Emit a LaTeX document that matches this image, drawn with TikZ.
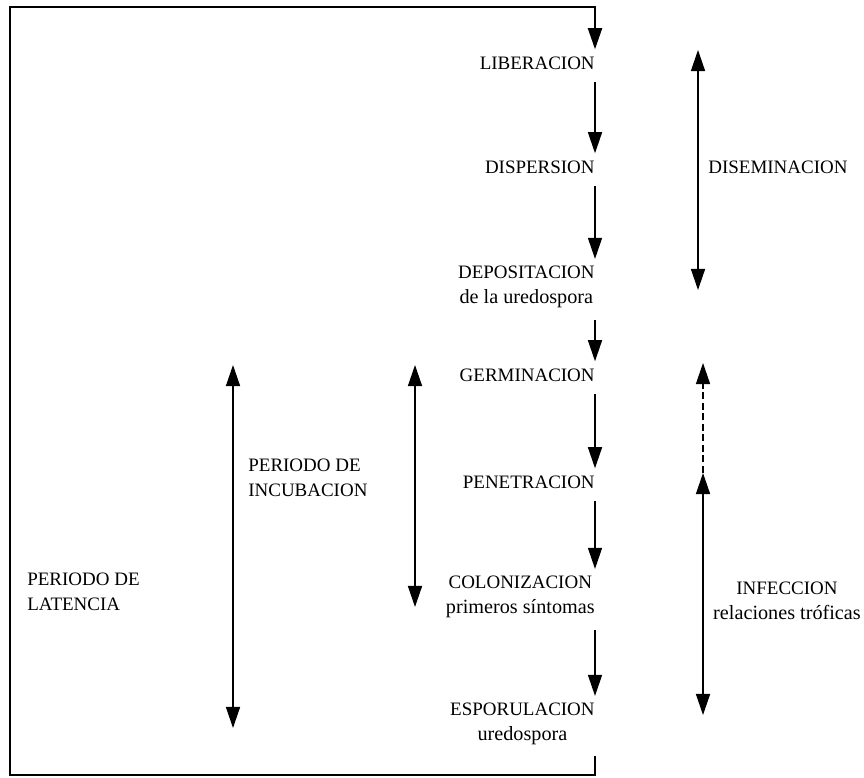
\documentclass[tikz,border=0pt]{standalone}
\usepackage{fontspec}
\setmainfont{Liberation Serif}
\usetikzlibrary{arrows.meta,positioning}
\newcommand{\capsz}{\fontsize{10.8}{14}\selectfont}
\newcommand{\lowsz}{\fontsize{11.5}{14}\selectfont}

\begin{document}
\begin{tikzpicture}[x=0.02cm,y=-0.02cm,>={Triangle[length=12pt,width=8pt]},
    stage/.style={anchor=east,align=center,inner xsep=0pt,inner ysep=4pt,font=\capsz},
    flow/.style={->,line width=0.8pt,shorten <=3pt,shorten >=0pt},
    span/.style={<->,line width=0.8pt},
    tag/.style={align=left,inner sep=0pt,font=\capsz}]
    \useasboundingbox (0,0) rectangle (864,777);
    % etapas del ciclo
    \node[stage] (liber) at (595,63) {LIBERACION};
    \node[stage] (disp) at (595,167) {DISPERSION};
    \node[stage] (depo) at (595,287) {DEPOSITACION\\{\lowsz de la uredospora}};
    \node[stage] (germ) at (595,375) {GERMINACION};
    \node[stage] (pene) at (595,482) {PENETRACION};
    \node[stage] (colon) at (595,597) {COLONIZACION\\{\lowsz primeros síntomas}};
    \node[stage] (espor) at (595,724) {ESPORULACION\\{\lowsz uredospora}};
    \draw[flow] (liber.south east) -- (disp.north east);
    \draw[flow] (disp.south east) -- (depo.north east);
    \draw[flow] (depo.south east) -- (germ.north east);
    \draw[flow] (germ.south east) -- (pene.north east);
    \draw[flow] (pene.south east) -- (colon.north east);
    \draw[flow] (colon.south east) -- (espor.north east);
    % vuelta al comienzo
    \coordinate (bot) at (10,775);
    \coordinate (topleft) at (10,7);
    \draw[->,line width=1.1pt,shorten <=2pt] (espor.south east) -- (espor.south east |- bot) -- (bot) -- (topleft) -| (liber.north east);
    % periodos
    \coordinate (disTop) at (698,50);
    \coordinate (disBot) at (698,290);
    \draw[span] (disTop) -- (disBot);
    \node[tag,anchor=west] (disem) at (708,167) {DISEMINACION};
    \coordinate (infTop) at (703,363);
    \coordinate (infMid) at (703,473);
    \coordinate (infBot) at (703,715);
    \draw[->,line width=0.8pt,dash pattern=on 4pt off 2pt] (infMid) -- (infTop);
    \draw[span] (infMid) -- (infBot);
    \node[tag,align=center] (infec) at (787,601) {INFECCION\\{\lowsz relaciones tróficas}};
    \coordinate (incTop) at (415,365);
    \coordinate (incBot) at (415,607);
    \draw[span] (incTop) -- (incBot);
    \node[tag,anchor=west] (incub) at (248,478) {PERIODO DE\\INCUBACION};
    \coordinate (latTop) at (233,365);
    \coordinate (latBot) at (233,728);
    \draw[span] (latTop) -- (latBot);
    \node[tag,anchor=west] (laten) at (27,592) {PERIODO DE\\LATENCIA};
\end{tikzpicture}
\end{document}
